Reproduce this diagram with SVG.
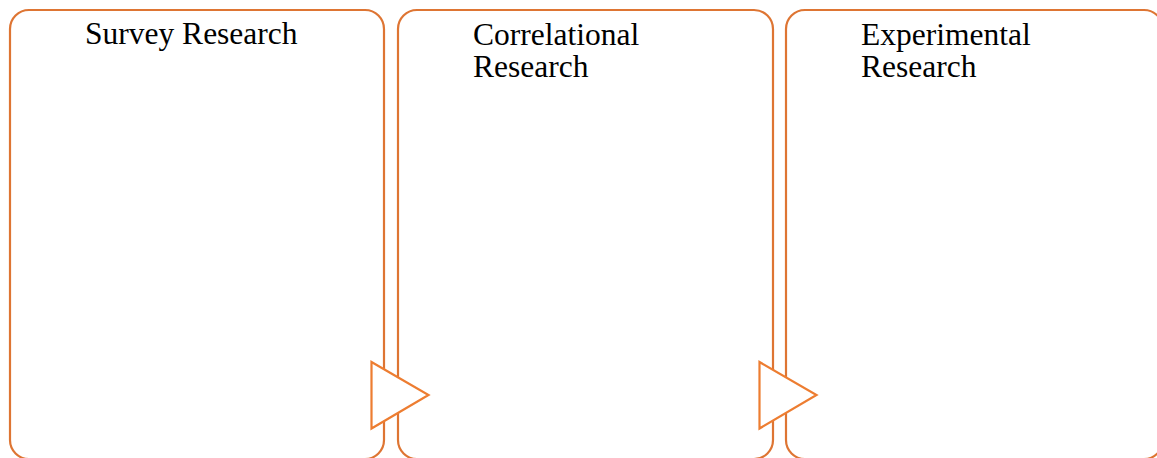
<svg xmlns="http://www.w3.org/2000/svg" width="1157" height="458" viewBox="0 0 1157 458">
<style>
.box{fill:#fff;stroke:#DE7533;stroke-width:2.2}
.arrow{fill:#fff;stroke:#ED7D31;stroke-width:2.2;stroke-linejoin:miter}
.lbl{font-family:"Liberation Serif","Times New Roman",serif;font-size:31.5px;fill:#000}
</style>
<rect width="1157" height="458" fill="#fff"/>
<g id="node-survey">
<rect class="box" x="10" y="10" width="374" height="449" rx="19" ry="19"/>
<text class="lbl" x="85" y="44">Survey Research</text>
</g>
<g id="node-correlational">
<rect class="box" x="398" y="10" width="375" height="449" rx="19" ry="19"/>
<text class="lbl" x="473" y="45">Correlational</text>
<text class="lbl" x="473" y="77">Research</text>
</g>
<g id="node-experimental">
<rect class="box" x="786" y="10" width="377" height="449" rx="19" ry="19"/>
<text class="lbl" x="861" y="45">Experimental</text>
<text class="lbl" x="861" y="77">Research</text>
</g>
<g id="connectors">
<polygon class="arrow" points="371.5,362 428.5,395 371.5,428.5"/>
<polygon class="arrow" points="759.5,362 816.5,395 759.5,428.5"/>
</g>
</svg>
